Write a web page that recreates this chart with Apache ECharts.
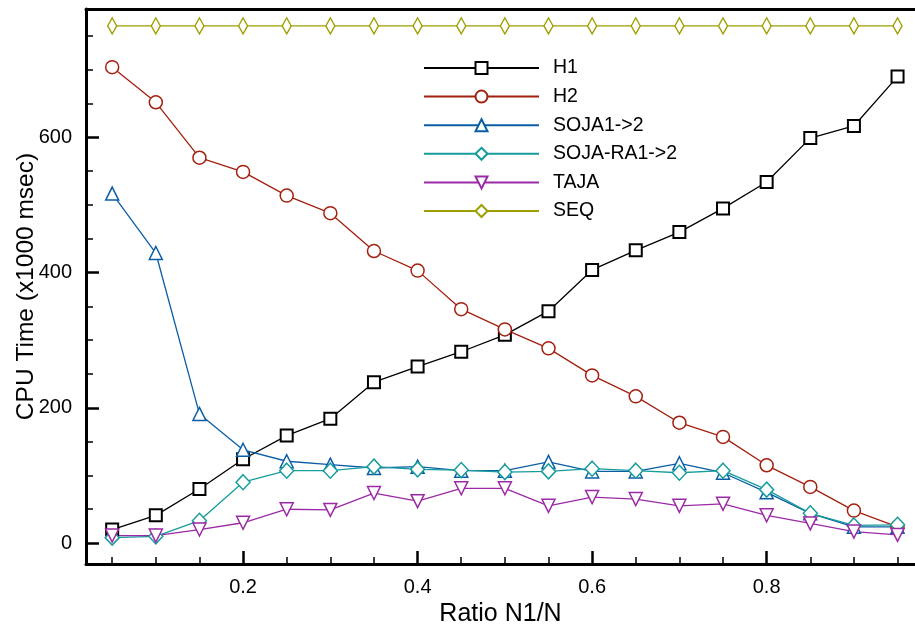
<!DOCTYPE html>
<html>
<head>
<meta charset="utf-8">
<script src="https://cdn.jsdelivr.net/npm/echarts@6/dist/echarts.min.js"></script>
<style>
html,body{margin:0;padding:0;background:#fff;}
#chart{width:915px;height:628px;}
</style>
</head>
<body>
<div id="chart"></div>
<script>
const ratios = [0.05,0.10,0.15,0.20,0.25,0.30,0.35,0.40,0.45,0.50,0.55,0.60,0.65,0.70,0.75,0.80,0.85,0.90,0.95];
const h1 = [20,41,80,124,159,184,238,261,283,308,343,404,433,460,495,534,599,617,690];
const h2 = [704,652,570,549,514,488,432,403,346,316,288,248,217,178,157,115,83,48,24];
const soja = [517,429,191,138,121,116,111,113,107,107,120,106,106,118,104,75,44,24,24];
const sojaRa = [8,10,33,90,107,107,113,109,108,105,106,110,107,104,107,79,44,26,27];
const taja = [11,11,20,30,50,49,74,62,81,81,55,68,65,55,58,41,29,17,12];
const seq = [765,765,765,765,765,765,765,765,765,765,765,765,765,765,765,765,765,765,765];
const seriesNames = ['H1','H2','SOJA1->2','SOJA-RA1->2','TAJA','SEQ'];
const xMajorTicks = [0.2,0.4,0.6,0.8];
const xMinorTicks = [0.05,0.1,0.15,0.25,0.3,0.35,0.45,0.5,0.55,0.65,0.7,0.75,0.85,0.9,0.95];
const yMajorTicks = [0,200,400,600];
const yMinorTicks = [50,100,150,250,300,350,450,500,550,650,700,750];

const FONT = '"Liberation Sans", Arial, Helvetica, sans-serif';
const xMin = 0.02, xMax = 0.97, yMin = -31, yMax = 790;

function pairs(vals){ return ratios.map((x,i)=>[x, vals[i]]); }

const styles = [
  {data:h1, color:'#000000', symbol:'rect', size:12, bw:2},
  {data:h2, color:'#a3200f', symbol:'circle', size:13, bw:1.5},
  {data:soja, color:'#0b5ea6', symbol:'triangle', size:13, bw:1.5},
  {data:sojaRa, color:'#179c9c', symbol:'diamond', size:[14,15], bw:1.5},
  {data:taja, color:'#9c2aa6', symbol:'triangle', size:13, bw:1.5, rotate:180},
  {data:seq, color:'#9e9e00', symbol:'diamond', size:[9,16], bw:1.5}
];

const series = styles.map((s,i)=>({
  name: seriesNames[i],
  type: 'line',
  xAxisIndex: 0, yAxisIndex: 0,
  data: pairs(s.data),
  symbol: s.symbol,
  symbolSize: s.size,
  symbolRotate: s.rotate || 0,
  showAllSymbol: true,
  animation: false,
  lineStyle: {color: s.color, width: 1.3},
  itemStyle: {color: '#ffffff', borderColor: s.color, borderWidth: s.bw, opacity: 1},
  emphasis: {disabled: true}
}));

const chart = echarts.init(document.getElementById('chart'), null, {renderer:'canvas'});
chart.setOption({
  animation: false,
  backgroundColor: '#ffffff',
  grid: {left: 86, right: 0, top: 9, bottom: 64, containLabel: false, outerBoundsMode: 'none'},
  legend: {
    orient: 'vertical',
    left: 423, top: 58,
    padding: 0,
    itemWidth: 115, itemHeight: 15, itemGap: 8.6,
    data: seriesNames,
    textStyle: {fontFamily: FONT, fontSize: 19.5, color: '#000', padding: [0,0,0,9]},
    selectedMode: false
  },
  xAxis: [
    {
      type: 'value', position: 'bottom', min: xMin, max: xMax,
      name: 'Ratio N1/N', nameLocation: 'middle', nameGap: 36,
      nameTextStyle: {fontFamily: FONT, fontSize: 25, color: '#000'},
      axisLine: {show: true, onZero: false, lineStyle: {color: '#000', width: 3}},
      axisTick: {show: true, inside: true, length: 13, customValues: xMajorTicks, lineStyle: {color: '#000', width: 2.5}},
      axisLabel: {show: true, customValues: xMajorTicks, margin: 13, fontFamily: FONT, fontSize: 20, color: '#000',
        formatter: v => String(Math.round(v*10)/10)},
      splitLine: {show: false}
    },
    {
      type: 'value', position: 'bottom', min: xMin, max: xMax,
      axisLine: {show: false, onZero: false},
      axisTick: {show: true, inside: true, length: 7, customValues: xMinorTicks, lineStyle: {color: '#000', width: 1.5}},
      axisLabel: {show: false},
      splitLine: {show: false}
    },
    {
      type: 'value', position: 'top', min: xMin, max: xMax,
      axisLine: {show: true, onZero: false, lineStyle: {color: '#000', width: 3}},
      axisTick: {show: false}, axisLabel: {show: false}, splitLine: {show: false}
    }
  ],
  yAxis: [
    {
      type: 'value', position: 'left', min: yMin, max: yMax,
      name: 'CPU Time (x1000 msec)', nameLocation: 'middle', nameGap: 47, nameRotate: 90,
      nameMoveOverlap: false,
      nameTextStyle: {fontFamily: FONT, fontSize: 24.5, color: '#000'},
      axisLine: {show: true, onZero: false, lineStyle: {color: '#000', width: 3}},
      axisTick: {show: true, inside: true, length: 13, customValues: yMajorTicks, lineStyle: {color: '#000', width: 2.5}},
      axisLabel: {show: true, customValues: yMajorTicks, margin: 14, fontFamily: FONT, fontSize: 20, color: '#000'},
      splitLine: {show: false}
    },
    {
      type: 'value', position: 'left', min: yMin, max: yMax,
      axisLine: {show: false, onZero: false},
      axisTick: {show: true, inside: true, length: 7, customValues: yMinorTicks, lineStyle: {color: '#000', width: 1.5}},
      axisLabel: {show: false},
      splitLine: {show: false}
    }
  ],
  series: series
});
</script>
</body>
</html>
